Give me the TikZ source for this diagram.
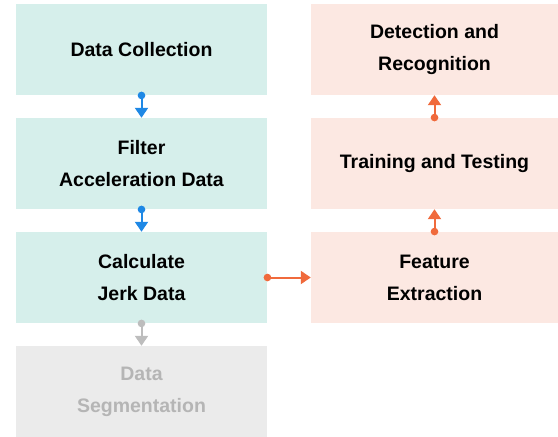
\documentclass[tikz,border=0pt]{standalone}
\usepackage{fontspec}
\setmainfont{Liberation Sans}
\usetikzlibrary{arrows.meta}
\definecolor{tealfill}{HTML}{D6EFEB}
\definecolor{orfill}{HTML}{FCE8E2}
\definecolor{grfill}{HTML}{EBEBEB}
\definecolor{grtext}{HTML}{B5B5B5}
\definecolor{bluearr}{HTML}{1E88E5}
\definecolor{orarr}{HTML}{F06A3C}
\definecolor{grarr}{HTML}{BDBDBD}
\tikzset{
  box/.style={rectangle, inner sep=0pt, align=center, font=\fontsize{19.5}{32}\selectfont\bfseries, text=black},
  lbox/.style={box, minimum width=251pt, minimum height=91pt},
  rbox/.style={box, minimum width=247pt, minimum height=91pt},
  conn/.style={line width=2pt, {Circle[length=7.5pt]}-{Triangle[width=13pt,length=10pt]}, shorten <=-3.5pt},
}
\begin{document}
\begin{tikzpicture}[x=1pt,y=-1pt]
\useasboundingbox (0,0) rectangle (558,437);
\node[lbox, fill=tealfill] (dc) at (141.5,49.5) {Data Collection};
\node[lbox, fill=tealfill] (fa) at (141.5,163.5) {Filter\\Acceleration Data};
\node[lbox, fill=tealfill] (cj) at (141.5,277.5) {Calculate\\Jerk Data};
\node[lbox, fill=grfill, text=grtext] (ds) at (141.5,391.5) {Data\\Segmentation};
\node[rbox, fill=orfill] (dr) at (434.5,49.5) {Detection and\\Recognition};
\node[rbox, fill=orfill] (tt) at (434.5,163.5) {Training and Testing};
\node[rbox, fill=orfill] (fe) at (434.5,277.5) {Feature\\Extraction};
\draw[conn, bluearr] (dc.south) -- (fa.north);
\draw[conn, bluearr] (fa.south) -- (cj.north);
\draw[conn, grarr] (cj.south) -- (ds.north);
\draw[conn, orarr] (cj.east) -- (fe.west);
\draw[conn, orarr] (fe.north) -- (tt.south);
\draw[conn, orarr] (tt.north) -- (dr.south);
\end{tikzpicture}
\end{document}
